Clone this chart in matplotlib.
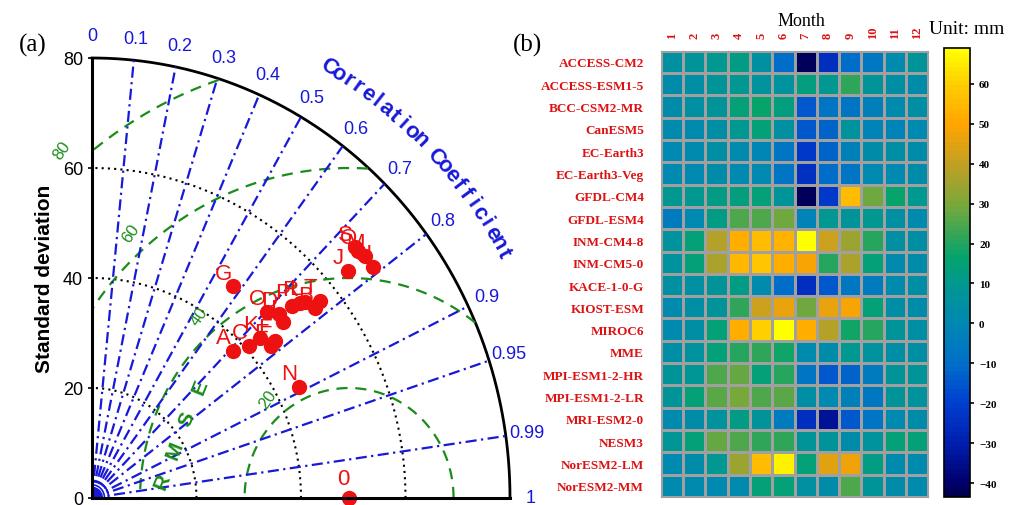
import numpy as np
import matplotlib.pyplot as plt
from matplotlib.colors import LinearSegmentedColormap

# ---------------- (a) Taylor diagram data ----------------
letters = list("ABCDEFGHIJKLMNOPQRST")
std_dev = [37.97, 54.9, 40.77, 49.03, 44.03, 45.14, 47.02, 68.25, 48.62, 64.08,
           43.40, 54.15, 68.27, 44.45, 47.59, 51.82, 67.87, 53.33, 67.89, 56.41]
corr = [0.711, 0.778, 0.736, 0.730, 0.779, 0.775, 0.574, 0.788, 0.753, 0.765,
        0.742, 0.753, 0.765, 0.891, 0.704, 0.739, 0.750, 0.746, 0.741, 0.773]
ref_std = 49.2
std_ticks = [0, 20, 40, 60, 80]
corr_ticks = [0, 0.1, 0.2, 0.3, 0.4, 0.5, 0.6, 0.7, 0.8, 0.9, 0.95, 0.99, 1]
rmse_levels = [20, 40, 60, 80]

# ---------------- (b) heatmap data ----------------
models = ["ACCESS-CM2", "ACCESS-ESM1-5", "BCC-CSM2-MR", "CanESM5", "EC-Earth3",
          "EC-Earth3-Veg", "GFDL-CM4", "GFDL-ESM4", "INM-CM4-8", "INM-CM5-0",
          "KACE-1-0-G", "KIOST-ESM", "MIROC6", "MME", "MPI-ESM1-2-HR",
          "MPI-ESM1-2-LR", "MRI-ESM2-0", "NESM3", "NorESM2-LM", "NorESM2-MM"]
months = [str(m) for m in range(1, 13)]
bias = [
    [5, 8, 10, 12, 5, -10, -42, -25, -10, -7, 2, 8],
    [3, 4, 8, 10, 6, 6, 13, 10, 22, 7, 4, 3],
    [3, 5, 7, 15, 17, 13, -15, -8, -8, -3, 2, 4],
    [2, 2, 4, 10, 15, 5, -15, -13, 6, -2, -2, 0],
    [0, 2, 4, 2, -1, -8, -22, -12, -3, 3, 4, 3],
    [1, 1, 3, 1, 0, -8, -24, -10, -8, 0, 1, 3],
    [10, 10, 12, 13, 14, 7, -42, -22, 55, 28, 17, 10],
    [-5, 0, 12, 25, 25, 28, -2, 10, 8, 10, 5, 2],
    [6, 15, 38, 52, 55, 53, 68, 42, 35, 20, 5, 4],
    [6, 15, 37, 54, 58, 52, 48, 20, 37, 14, 2, 3],
    [5, 5, 8, 12, 2, -10, -25, -15, -7, -5, 2, 4],
    [2, 4, 8, 22, 42, 46, 28, 46, 48, 15, 4, 3],
    [2, 4, 14, 52, 60, 69, 52, 38, 18, 20, 8, 4],
    [4, 6, 14, 20, 22, 18, 2, 3, 10, 6, 4, 4],
    [7, 9, 25, 27, 15, 20, -8, -15, -12, -5, 7, 8],
    [7, 14, 26, 30, 25, 26, 4, 0, -3, -7, 7, 6],
    [2, 3, 6, 12, 8, -5, -25, -33, -15, -8, 1, 3],
    [9, 14, 27, 25, 22, 22, 7, 8, 3, 6, 15, 14],
    [0, 3, 10, 35, 55, 66, 15, 45, 47, 12, 2, 2],
    [2, 2, 0, 2, 15, 15, 5, 3, 25, 8, 3, 2],
]
cbar_ticks = [-40, -30, -20, -10, 0, 10, 20, 30, 40, 50, 60]
vmin, vmax = -43.5, 69

W, H = 1018, 506
fig = plt.figure(figsize=(W / 100, H / 100), dpi=100)

# ---------------- Taylor diagram ----------------
ax_l, ax_b, ax_w, ax_h = 92, 7, 418, 440   # pixels
ax = fig.add_axes([ax_l / W, ax_b / H, ax_w / W, ax_h / H])
ax.set_xlim(0, 80)
ax.set_ylim(0, 80)
sx, sy = ax_w / 80.0, ax_h / 80.0
blue = "#1818d8"
green = "#1a8c1a"
sans = "Liberation Sans"

th = np.linspace(0, np.pi / 2, 300)
# std dev arcs
for s in std_ticks[1:-1]:
    ax.plot(s * np.cos(th), s * np.sin(th), color="k", ls=(0, (1, 2)), lw=1.5)
ax.plot(80 * np.cos(th), 80 * np.sin(th), color="k", lw=2, clip_on=False)

# RMSE arcs
tt = np.linspace(0, np.pi, 600)
for r in rmse_levels:
    x = ref_std + r * np.cos(tt)
    y = r * np.sin(tt)
    m = np.hypot(x, y) > 80
    x[m] = np.nan
    y[m] = np.nan
    ax.plot(x, y, color=green, ls=(0, (5, 3.5)), lw=1.6)
    a = np.radians(131)
    ax.text(ref_std + (r + 3.8) * np.cos(a), (r + 3.8) * np.sin(a), str(r),
            color=green, fontsize=12, rotation=55, ha="center", va="center",
            family=sans, clip_on=False)

# correlation rays
for c in corr_ticks[1:-1]:
    a = np.arccos(c)
    ax.plot([0, 80 * np.cos(a)], [0, 80 * np.sin(a)], color=blue,
            ls=(0, (5, 2, 1, 2)), lw=1.6)
for r in [0.8, 1.6, 2.4, 3.2]:
    ax.plot(r * np.cos(th), r * np.sin(th), color=blue, lw=1.2)
for c in corr_ticks:
    a = np.arccos(c)
    lab = "%g" % c
    ax.text(84 * np.cos(a), 84 * np.sin(a), lab, color=blue, fontsize=13,
            ha="center", va="center", family=sans)


def arc_text(s, r, a0, a1, **kw):
    angs = np.radians(np.linspace(a0, a1, len(s)))
    for ch, a in zip(s, angs):
        rot = np.degrees(np.arctan2(-np.cos(a) * sy, np.sin(a) * sx))
        ax.text(r * np.cos(a), r * np.sin(a), ch, rotation=rot, ha="center",
                va="center", rotation_mode="anchor", **kw)


arc_text("Correlation Coefficient", 90.5, 60, 29.5, color=blue, fontsize=16,
         fontweight="bold", family=sans)

# RMSE label along a ray
for i, ch in enumerate("RMSE"):
    ax.text(13.4 + 2.4 * i, 3.1 + 5.7 * i, ch, color=green, fontsize=15,
            fontweight="bold", rotation=68, ha="center", va="center", family=sans)

# points
xs = np.array(std_dev) * np.array(corr)
ys = np.array(std_dev) * np.sqrt(1 - np.array(corr) ** 2)
ax.plot(xs, ys, "o", color="#ee1111", ms=10, mec="#ee1111", clip_on=False)
for lt, x, y in zip(letters, xs, ys):
    ax.text(x - 1.8, y + 2.4, lt, color="#ee1111", fontsize=16, ha="center",
            va="center", family=sans)
ax.plot([ref_std], [0], "o", color="#ee1111", ms=10, clip_on=False)
ax.text(ref_std - 1.1, 3.5, "0", color="#ee1111", fontsize=16, ha="center",
        va="center", family=sans)

ax.set_yticks(std_ticks)
ax.set_yticklabels([str(t) for t in std_ticks], fontsize=13, family=sans)
ax.set_xticks([])
ax.tick_params(axis="y", length=3, width=1.2)
for sp in ["top", "right"]:
    ax.spines[sp].set_visible(False)
for sp in ["left", "bottom"]:
    ax.spines[sp].set_linewidth(2.2)
ax.set_ylabel("Standard deviation", fontsize=15, fontweight="bold", family=sans,
              labelpad=6)
fig.text(33 / W, 1 - 45 / H, "(a)", fontsize=18, family="Liberation Serif",
         ha="center", va="center")

# ---------------- heatmap ----------------
cmap = LinearSegmentedColormap.from_list("bias", [
    (0.0, "#000050"),
    ((-40 - vmin) / (vmax - vmin), "#000070"),
    ((-30 - vmin) / (vmax - vmin), "#0020b0"),
    ((-20 - vmin) / (vmax - vmin), "#0040d0"),
    ((-10 - vmin) / (vmax - vmin), "#0070c8"),
    ((0 - vmin) / (vmax - vmin), "#0088b2"),
    ((10 - vmin) / (vmax - vmin), "#009890"),
    ((17 - vmin) / (vmax - vmin), "#06a46a"),
    ((30 - vmin) / (vmax - vmin), "#7aa83a"),
    ((40 - vmin) / (vmax - vmin), "#c0a024"),
    ((50 - vmin) / (vmax - vmin), "#ffa400"),
    ((60 - vmin) / (vmax - vmin), "#ffcc00"),
    (1.0, "#ffff00"),
], N=96)

hx0, hx1, hy0, hy1 = 660.7, 928.3, 51.7, 498
hax = fig.add_axes([hx0 / W, 1 - hy1 / H, (hx1 - hx0) / W, (hy1 - hy0) / H])
mesh = hax.pcolormesh(np.array(bias), cmap=cmap, vmin=vmin, vmax=vmax,
                      edgecolors="#a0a0a0", linewidth=0.8)
hax.set_xlim(0, 12)
hax.set_ylim(20, 0)
hax.xaxis.tick_top()
hax.set_xticks(np.arange(12) + 0.5)
hax.set_xticklabels(months, rotation=90, color="#dd1111", fontsize=9,
                    fontweight="bold", family="Liberation Serif")
hax.set_yticks(np.arange(20) + 0.5)
hax.set_yticklabels(models, color="#dd1111", fontsize=9.5, fontweight="bold",
                    family="Liberation Serif")
hax.tick_params(length=0, pad=12)
hax.tick_params(axis="x", pad=9)
for sp in hax.spines.values():
    sp.set_color("#a0a0a0")
fig.text(801 / W, 1 - 21 / H, "Month", fontsize=13, family="Liberation Serif",
         ha="center", va="center")
fig.text(527 / W, 1 - 45 / H, "(b)", fontsize=18, family="Liberation Serif",
         ha="center", va="center")

cx0, cx1, cy0, cy1 = 944, 970, 49, 498
cax = fig.add_axes([cx0 / W, 1 - cy1 / H, (cx1 - cx0) / W, (cy1 - cy0) / H])
cb = fig.colorbar(mesh, cax=cax, ticks=cbar_ticks)
cb.outline.set_linewidth(1.2)
cb.ax.tick_params(length=3, width=1.2, labelsize=8)
for t in cb.ax.get_yticklabels():
    t.set_fontweight("bold")
    t.set_family("Liberation Serif")
fig.text(967 / W, 1 - 30 / H, "Unit: mm", fontsize=14, family="Liberation Serif",
         ha="center", va="center")

fig.savefig("out.png", dpi=100)
